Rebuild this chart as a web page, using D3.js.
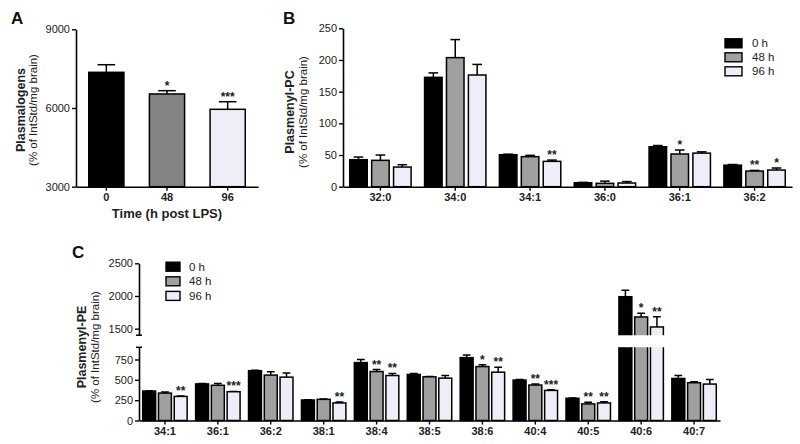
<!DOCTYPE html>
<html><head><meta charset="utf-8">
<script src="https://cdn.jsdelivr.net/npm/d3@7"></script>
<style>body{margin:0;background:#fff}svg{display:block;font-family:"Liberation Sans",Arial,sans-serif}</style>
</head><body><svg id="c" width="800" height="444"></svg>
<script>
// ---------- DATA ----------
const seriesNames = ["0 h", "48 h", "96 h"];
// Panel A
const timeLabels = ["0", "48", "96"];
const aMeans = [7360, 6535, 5950];
const aErr = [290, 125, 290];
const aSig = ["", "*", "***"];
const aTicks = [3000, 6000, 9000];
// Panel B (Plasmenyl-PC)
const pcCats = ["32:0", "34:0", "34:1", "36:0", "36:1", "36:2"];
const pc0 = [42.6, 172.6, 50.5, 6.3, 63, 34];
const pc0Err = [4.2, 7, 0.8, 0.5, 2, 1];
const pc48 = [41.6, 203.7, 47.4, 5.3, 51.6, 24.7];
const pc48Err = [8.4, 28.5, 2.1, 3.5, 6.3, 1];
const pc96 = [31, 176.3, 40, 5.8, 53, 26.3];
const pc96Err = [3.7, 16.7, 2, 2.3, 2, 3.2];
const pc48Sig = ["", "", "", "", "*", "**"];
const pc96Sig = ["", "", "**", "", "", "*"];
const pcTicks = [0, 50, 100, 150, 200, 250];
// Panel C (Plasmenyl-PE)
const peCats = ["34:1", "36:1", "36:2", "38:1", "38:4", "38:5", "38:6", "40:4", "40:5", "40:6", "40:7"];
const pe0 = [362, 450, 612, 252, 712, 566, 773, 497, 273, 1989, 517];
const pe0Err = [5, 5, 5, 3, 37, 12, 33, 8, 5, 98, 36];
const pe48 = [337, 433, 558, 260, 602, 537, 663, 436, 204, 1679, 464];
const pe48Err = [12, 21, 42, 5, 24, 4, 21, 12, 20, 56, 12];
const pe96 = [296, 354, 533, 216, 553, 521, 594, 370, 216, 1526, 448];
const pe96Err = [4, 4, 50, 10, 25, 32, 61, 9, 16, 158, 56];
const pe48Sig = ["", "", "", "", "**", "", "*", "**", "**", "*", ""];
const pe96Sig = ["**", "***", "", "**", "**", "", "**", "***", "**", "**", ""];
const peTicksLow = [0, 250, 500, 750];
const peTicksHigh = [1500, 2000, 2500];
const peBreak = [900, 1400];

// ---------- STYLE ----------
const fills = ["#000000", "#a0a0a0", "#eeeef8"];
const fillsA = ["#000000", "#838383", "#eeeef8"];
const txt = "#222";
const fmt = d3.format("d");
const svg = d3.select("#c");

function styleAxis(g, bold) {
  g.select(".domain").attr("stroke", "#000").attr("stroke-width", 1.6);
  g.selectAll(".tick line").attr("stroke", "#000").attr("stroke-width", 1.4);
  g.selectAll(".tick text").attr("fill", txt).attr("font-size", 11)
    .attr("font-weight", bold ? "bold" : "normal").attr("font-family", '"Liberation Sans",Arial,sans-serif');
}
function yTitle(x1, x2, cy, t1, t2) {
  svg.append("text").attr("transform", `translate(${x1},${cy}) rotate(-90)`).attr("text-anchor", "middle")
    .attr("font-size", 12.5).attr("font-weight", "bold").attr("fill", txt).text(t1);
  svg.append("text").attr("transform", `translate(${x2},${cy}) rotate(-90)`).attr("text-anchor", "middle")
    .attr("font-size", 11.5).attr("fill", txt).text(t2);
}
function letter(x, y, t) {
  svg.append("text").attr("x", x).attr("y", y).attr("font-size", 17).attr("font-weight", "bold").attr("fill", "#111").text(t);
}
function errBar(g, cx, yTop, yBase, capW) {
  g.append("line").attr("x1", cx).attr("x2", cx).attr("y1", yBase).attr("y2", yTop).attr("stroke", "#000").attr("stroke-width", 1.5);
  g.append("line").attr("x1", cx - capW / 2).attr("x2", cx + capW / 2).attr("y1", yTop).attr("y2", yTop).attr("stroke", "#000").attr("stroke-width", 1.5);
}
function star(g, cx, y, s) {
  if (!s) return;
  g.append("text").attr("x", cx).attr("y", y).attr("text-anchor", "middle").attr("font-size", 12)
    .attr("font-weight", "bold").attr("fill", txt).text(s);
}
function legend(x, y0, dy, w, h, fs, tx) {
  seriesNames.forEach((n, i) => {
    svg.append("rect").attr("x", x).attr("y", y0 + i * dy - h / 2).attr("width", w).attr("height", h)
      .attr("fill", fills[i]).attr("stroke", "#000").attr("stroke-width", 1.4);
    svg.append("text").attr("x", tx).attr("y", y0 + i * dy + 4).attr("font-size", fs).attr("fill", txt).text(n);
  });
}

// ---------- PANEL A ----------
{
  const x = d3.scaleBand().domain(timeLabels).range([76, 258]).paddingInner(0.42).paddingOuter(0.21);
  const y = d3.scaleLinear().domain([3000, 9000]).range([186.7, 29.3]);
  const g = svg.append("g");
  timeLabels.forEach((t, i) => {
    const bx = x(t), bw = x.bandwidth(), cx = bx + bw / 2;
    errBar(g, cx, y(aMeans[i] + aErr[i]), y(aMeans[i]), bw * 0.5);
    g.append("rect").attr("x", bx).attr("y", y(aMeans[i])).attr("width", bw).attr("height", y(3000) - y(aMeans[i]))
      .attr("fill", fillsA[i]).attr("stroke", "#000").attr("stroke-width", 1.5);
    star(g, cx, y(aMeans[i] + aErr[i]) - 1, aSig[i]);
  });
  const ya = svg.append("g").attr("transform", "translate(76,0)")
    .call(d3.axisLeft(y).tickValues(aTicks).tickFormat(fmt).tickSize(4).tickSizeOuter(0).tickPadding(2));
  styleAxis(ya, false);
  const xa = svg.append("g").attr("transform", "translate(0,186.7)")
    .call(d3.axisBottom(x).tickSize(4).tickSizeOuter(0).tickPadding(3));
  styleAxis(xa, true);
  svg.append("text").attr("x", 167).attr("y", 218).attr("text-anchor", "middle").attr("font-size", 13)
    .attr("font-weight", "bold").attr("fill", txt).text("Time (h post LPS)");
  yTitle(25, 37, 110, "Plasmalogens", "(% of IntStd/mg brain)");
  letter(11, 24, "A");
}

// ---------- PANEL B ----------
{
  const x = d3.scaleBand().domain(pcCats).range([343, 792]).paddingInner(0.18).paddingOuter(0.09);
  const xs = d3.scaleBand().domain(seriesNames).range([0, x.bandwidth()]).paddingInner(0.2);
  const y = d3.scaleLinear().domain([0, 250]).range([186.7, 28.3]);
  const vals = [pc0, pc48, pc96], errs = [pc0Err, pc48Err, pc96Err], sigs = [null, pc48Sig, pc96Sig];
  const g = svg.append("g");
  pcCats.forEach((c, i) => {
    seriesNames.forEach((s, j) => {
      const bx = x(c) + xs(s), bw = xs.bandwidth(), cx = bx + bw / 2, v = vals[j][i], e = errs[j][i];
      errBar(g, cx, y(v + e), y(v), bw * 0.55);
      g.append("rect").attr("x", bx).attr("y", y(v)).attr("width", bw).attr("height", y(0) - y(v))
        .attr("fill", fills[j]).attr("stroke", "#000").attr("stroke-width", 1.5);
      if (sigs[j]) star(g, cx, y(v + e) - 1, sigs[j][i]);
    });
  });
  const ya = svg.append("g").attr("transform", "translate(343,0)")
    .call(d3.axisLeft(y).tickValues(pcTicks).tickFormat(fmt).tickSize(4).tickSizeOuter(0).tickPadding(2));
  styleAxis(ya, false);
  const xa = svg.append("g").attr("transform", "translate(0,186.7)")
    .call(d3.axisBottom(x).tickSize(4).tickSizeOuter(0).tickPadding(3));
  styleAxis(xa, true);
  yTitle(294, 307, 112, "Plasmenyl-PC", "(% of IntStd/mg brain)");
  letter(283, 24, "B");
  legend(725, 43.3, 14, 17, 9, 11.5, 752);
}

// ---------- PANEL C ----------
{
  const x = d3.scaleBand().domain(peCats).range([139, 720]).paddingInner(0.16).paddingOuter(0.07);
  const xs = d3.scaleBand().domain(seriesNames).range([0, x.bandwidth()]).paddingInner(0.18);
  const yLow = d3.scaleLinear().domain([0, peBreak[0]]).range([420.5, 347.3]);
  const yHigh = d3.scaleLinear().domain([peBreak[1], 2500]).range([335.2, 263.3]);
  const vals = [pe0, pe48, pe96], errs = [pe0Err, pe48Err, pe96Err], sigs = [null, pe48Sig, pe96Sig];
  const defs = svg.append("defs");
  defs.append("clipPath").attr("id", "clipLow").append("rect").attr("x", 130).attr("y", yLow(peBreak[0])).attr("width", 600).attr("height", yLow(0) - yLow(peBreak[0]) + 2);
  defs.append("clipPath").attr("id", "clipHigh").append("rect").attr("x", 130).attr("y", 250).attr("width", 600).attr("height", yHigh(peBreak[1]) - 250);
  const gl = svg.append("g").attr("clip-path", "url(#clipLow)");
  const gh = svg.append("g").attr("clip-path", "url(#clipHigh)");
  const gs = svg.append("g");
  peCats.forEach((c, i) => {
    seriesNames.forEach((s, j) => {
      const bx = x(c) + xs(s), bw = xs.bandwidth(), cx = bx + bw / 2, v = vals[j][i], e = errs[j][i];
      if (v > peBreak[1]) {
        errBar(gh, cx, yHigh(v + e), yHigh(v), bw * 0.6);
        gh.append("rect").attr("x", bx).attr("y", yHigh(v)).attr("width", bw).attr("height", yHigh(peBreak[1]) - yHigh(v) + 6)
          .attr("fill", fills[j]).attr("stroke", "#000").attr("stroke-width", 1.5);
        gl.append("rect").attr("x", bx).attr("y", yLow(peBreak[0]) - 6).attr("width", bw).attr("height", yLow(0) - yLow(peBreak[0]) + 6)
          .attr("fill", fills[j]).attr("stroke", "#000").attr("stroke-width", 1.5);
        if (sigs[j]) star(gs, cx, yHigh(v + e) - 1, sigs[j][i]);
      } else {
        errBar(gl, cx, yLow(v + e), yLow(v), bw * 0.6);
        gl.append("rect").attr("x", bx).attr("y", yLow(v)).attr("width", bw).attr("height", yLow(0) - yLow(v))
          .attr("fill", fills[j]).attr("stroke", "#000").attr("stroke-width", 1.5);
        if (sigs[j]) star(gs, cx, yLow(v + e) - 1, sigs[j][i]);
      }
    });
  });
  const yl = svg.append("g").attr("transform", "translate(139,0)")
    .call(d3.axisLeft(yLow).tickValues(peTicksLow).tickFormat(fmt).tickSize(4).tickSizeOuter(0).tickPadding(2));
  styleAxis(yl, false);
  const yh = svg.append("g").attr("transform", "translate(139,0)")
    .call(d3.axisLeft(yHigh).tickValues(peTicksHigh).tickFormat(fmt).tickSize(4).tickSizeOuter(0).tickPadding(2));
  styleAxis(yh, false);
  // break caps
  [yHigh(peBreak[1]), yLow(peBreak[0])].forEach(yy => {
    svg.append("line").attr("x1", 136).attr("x2", 142).attr("y1", yy).attr("y2", yy).attr("stroke", "#000").attr("stroke-width", 1.5);
  });
  const xa = svg.append("g").attr("transform", "translate(0,420.5)")
    .call(d3.axisBottom(x).tickSize(4).tickSizeOuter(0).tickPadding(3));
  styleAxis(xa, true);
  yTitle(86, 99, 347, "Plasmenyl-PE", "(% of IntStd/mg brain)");
  letter(72, 258, "C");
  legend(166, 266.7, 14.6, 14, 9, 11.5, 189);
}
</script></body></html>
